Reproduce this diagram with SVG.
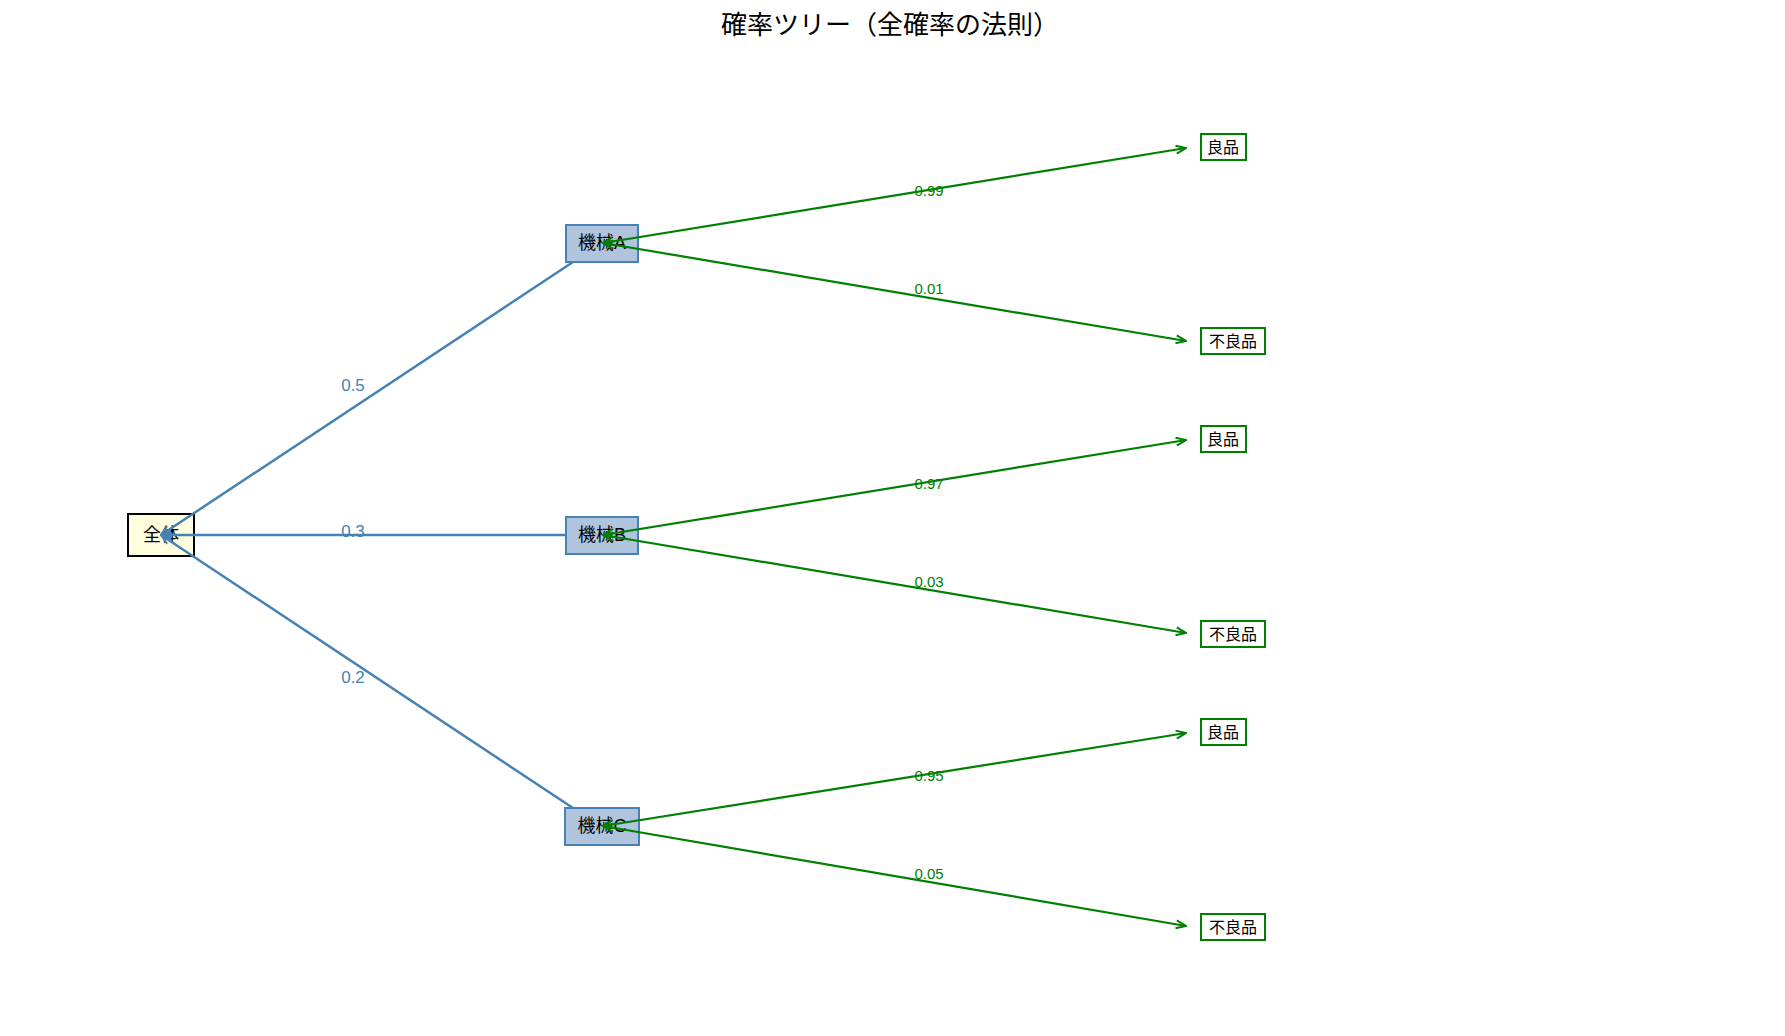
<svg xmlns="http://www.w3.org/2000/svg" width="1785" height="1036" viewBox="0 0 1785 1036">
<style>
text{font-family:"Liberation Sans","Noto Sans CJK JP",sans-serif}
.t{font-size:18px;text-anchor:middle;dominant-baseline:central;fill:#000}
.root{fill:#ffffe0;stroke:#000;stroke-width:2}
.mach{fill:#b0c4de;stroke:#4682b4;stroke-width:2}
.leaf{fill:#fff;stroke:#008000;stroke-width:2}
.be{stroke:#4682b4;stroke-width:2.5;fill:none}
.ge{stroke:#008000;stroke-width:2.2;fill:none}
.bl{font-size:17px;fill:#4682b4;text-anchor:middle}
.gl{font-size:15px;fill:#008000;text-anchor:middle}
</style>
<defs>
<marker id="ab" viewBox="0 0 12 10" refX="11" refY="5" markerWidth="12" markerHeight="10" markerUnits="userSpaceOnUse" orient="auto-start-reverse"><path d="M1,1 L11,5 L1,9" fill="none" stroke="#4682b4" stroke-width="2"/></marker>
<marker id="ag" viewBox="0 0 12 10" refX="11" refY="5" markerWidth="12" markerHeight="10" markerUnits="userSpaceOnUse" orient="auto-start-reverse"><path d="M1,1 L11,5 L1,9" fill="none" stroke="#008000" stroke-width="2"/></marker>
</defs>
<rect width="1785" height="1036" fill="#fff"/>
<text x="890" y="34" style="font-size:26px;text-anchor:middle">確率ツリー（全確率の法則）</text>
<g id="n-root"><rect class="root" x="128" y="514" width="66" height="42"/><text class="t" x="161" y="535">全体</text></g>
<g id="n-A"><rect class="mach" x="566" y="225" width="72" height="37"/><text class="t" x="602" y="243">機械A</text></g>
<g id="n-B"><rect class="mach" x="566" y="517" width="72" height="37"/><text class="t" x="602" y="535">機械B</text></g>
<g id="n-C"><rect class="mach" x="565" y="808" width="74" height="37"/><text class="t" x="602" y="826">機械C</text></g>
<g id="n-A1"><rect class="leaf" x="1201" y="134" width="45" height="26"/><text class="t" x="1223" y="147" style="font-size:16px">良品</text></g>
<g id="n-A2"><rect class="leaf" x="1201" y="328" width="64" height="26"/><text class="t" x="1233" y="341" style="font-size:16px">不良品</text></g>
<g id="n-B1"><rect class="leaf" x="1201" y="426" width="45" height="26"/><text class="t" x="1223" y="439" style="font-size:16px">良品</text></g>
<g id="n-B2"><rect class="leaf" x="1201" y="621" width="64" height="26"/><text class="t" x="1233" y="634" style="font-size:16px">不良品</text></g>
<g id="n-C1"><rect class="leaf" x="1201" y="719" width="45" height="26"/><text class="t" x="1223" y="732" style="font-size:16px">良品</text></g>
<g id="n-C2"><rect class="leaf" x="1201" y="914" width="64" height="26"/><text class="t" x="1233" y="927" style="font-size:16px">不良品</text></g>
<g id="edges">
<line class="be" x1="161" y1="535" x2="573" y2="262" marker-start="url(#ab)"/>
<line class="be" x1="161" y1="535" x2="566" y2="535" marker-start="url(#ab)"/>
<line class="be" x1="161" y1="535" x2="573" y2="808" marker-start="url(#ab)"/>
<line class="ge" x1="603" y1="243" x2="1186" y2="148" marker-start="url(#ag)" marker-end="url(#ag)"/>
<line class="ge" x1="603" y1="243" x2="1186" y2="341" marker-start="url(#ag)" marker-end="url(#ag)"/>
<line class="ge" x1="603" y1="535" x2="1186" y2="440" marker-start="url(#ag)" marker-end="url(#ag)"/>
<line class="ge" x1="603" y1="535" x2="1186" y2="633" marker-start="url(#ag)" marker-end="url(#ag)"/>
<line class="ge" x1="603" y1="826" x2="1186" y2="733" marker-start="url(#ag)" marker-end="url(#ag)"/>
<line class="ge" x1="603" y1="826" x2="1186" y2="926" marker-start="url(#ag)" marker-end="url(#ag)"/>
<text class="bl" x="353" y="391">0.5</text>
<text class="bl" x="353" y="537">0.3</text>
<text class="bl" x="353" y="683">0.2</text>
<text class="gl" x="929" y="196">0.99</text>
<text class="gl" x="929" y="294">0.01</text>
<text class="gl" x="929" y="489">0.97</text>
<text class="gl" x="929" y="587">0.03</text>
<text class="gl" x="929" y="781">0.95</text>
<text class="gl" x="929" y="879">0.05</text>
</g>
</svg>
